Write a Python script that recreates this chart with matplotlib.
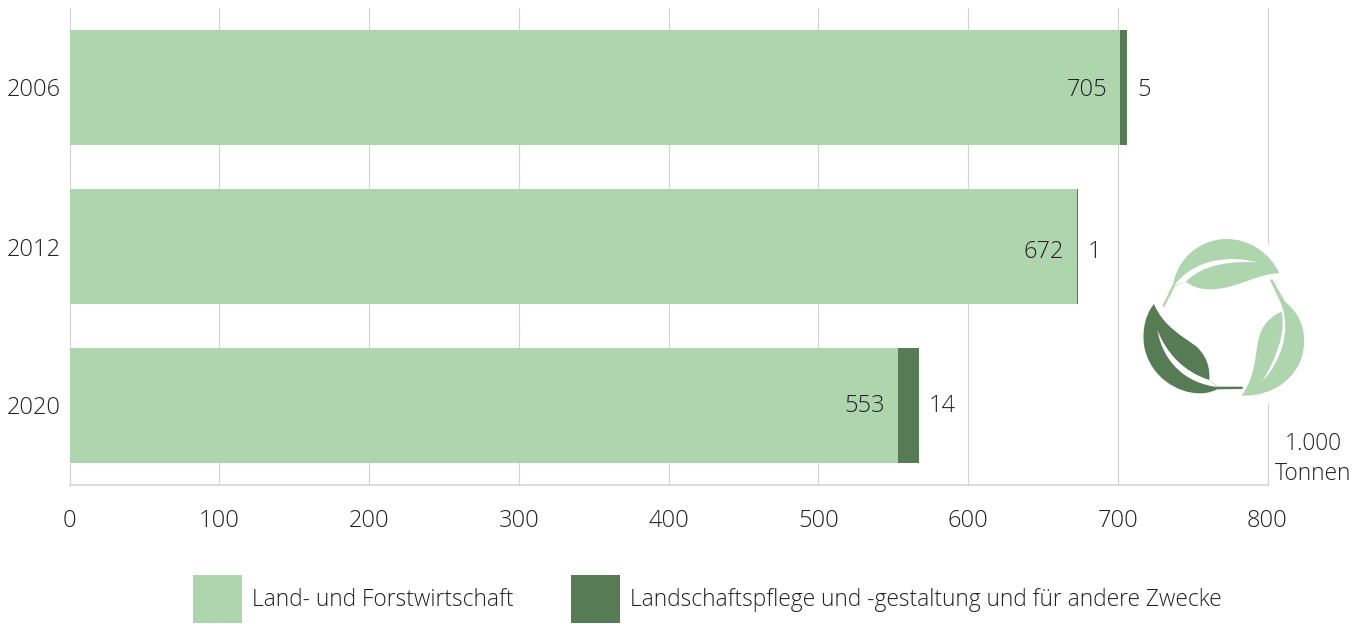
import matplotlib
matplotlib.use("Agg")
import matplotlib.pyplot as plt
from matplotlib.path import Path
from matplotlib.patches import PathPatch, Rectangle
from matplotlib.transforms import Affine2D

years = ["2006", "2012", "2020"]
land_drawn = [701.5, 672.5, 553]
land_labels = ["705", "672", "553"]
other_values = [5, 1, 14]
other_labels = ["5", "1", "14"]
x_ticks = [0, 100, 200, 300, 400, 500, 600, 700, 800]
series_names = ["Land- und Forstwirtschaft",
                "Landschaftspflege und -gestaltung und für andere Zwecke"]
unit_label = "1.000\nTonnen"

LIGHT = "#AFD5AE"
DARK = "#577C55"
TEXT = "#222222"
GRID = "#D2D2D2"
W, H = 1366, 624
DIGITS = 17
WORDS = 16.4

plt.rcParams['font.family'] = ['Open Sans', 'DejaVu Sans']
plt.rcParams['font.weight'] = 'light'
fig = plt.figure(figsize=(W / 100, H / 100), dpi=100)
ax = fig.add_axes([69.5 / W, (H - 485) / H, 1198 / W, 477 / H])
ax.set_xlim(0, 800)
ax.set_ylim(2.5, -0.5)

ypos = list(range(len(years)))
b1 = ax.barh(ypos, land_drawn, height=0.723, color=LIGHT, zorder=3, label=series_names[0])
b2 = ax.barh(ypos, other_values, left=land_drawn, height=0.723, color=DARK, zorder=3, label=series_names[1])

ax.set_xticks(x_ticks)
ax.set_yticks(ypos, years)
ax.grid(axis='x', color=GRID, lw=0.8, zorder=0, clip_on=False)
ax.grid(axis='y', visible=False)
ax.set_axisbelow(True)
for s in ('top', 'right', 'left'):
    ax.spines[s].set_visible(False)
ax.spines['bottom'].set_color(GRID)
ax.spines['bottom'].set_linewidth(1.1)
ax.tick_params(axis='both', length=0, labelsize=DIGITS, labelcolor=TEXT)
ax.tick_params(axis='x', pad=17)
ax.tick_params(axis='y', pad=6)

nudge_px = [2, 6, 0]
for i, (l, o) in enumerate(zip(land_drawn, other_values)):
    dy = -nudge_px[i] * 0.72
    ax.annotate(land_labels[i], (l, i), xytext=(-9, dy), textcoords='offset points',
                ha='right', va='center', fontsize=DIGITS, color=TEXT, zorder=5)
    ax.annotate(other_labels[i], (l + o, i), xytext=(7, dy), textcoords='offset points',
                ha='left', va='center', fontsize=DIGITS, color=TEXT, zorder=5)

# decorative recycling-leaves icon, in pixel coordinates of the reference
px = Affine2D().scale(1 / 3, 1 / 3).translate(1130, 230).scale(1, -1).translate(0, H)
M, L, C, Z = Path.MOVETO, Path.LINETO, Path.CURVE4, Path.CLOSEPOLY

def shape(start, segs, color):
    verts, codes = [start], [M]
    for seg in segs:
        if len(seg) == 1:
            verts += seg; codes += [L]
        else:
            verts += seg; codes += [C, C, C]
    verts.append(start); codes.append(Z)
    fig.add_artist(PathPatch(Path(verts, codes), fc=color, ec='none', transform=px, zorder=6))

fig.add_artist(Rectangle((1140, H - 403), 170, 158, fc='white', ec='none',
                         transform=None, zorder=5))
# top leaf
shape((97, 228), [[(130, 160)], [(150, 60), (240, 25), (290, 27)], [(360, 27), (420, 70), (448, 130)],
                  [(380, 130), (320, 178), (240, 178)], [(210, 178), (185, 170), (168, 155)],
                  [(135, 168)], [(103, 231)]], LIGHT)
shape((133, 166), [[(180, 100), (280, 70), (380, 97)], [(300, 92), (215, 105), (168, 155)]], 'white')
# right leaf
shape((420, 150), [[(427, 147)], [(465, 215)], [(510, 250), (525, 300), (522, 340)],
                   [(520, 430), (440, 500), (335, 497)], [(375, 440), (375, 380), (385, 330)],
                   [(395, 285), (420, 260), (455, 245)], [(453, 220)]], LIGHT)
shape((452, 218), [[(485, 300), (455, 390), (397, 455)], [(440, 380), (468, 310), (455, 245)]], 'white')
# left leaf
shape((72, 222), [[(40, 260), (35, 320), (45, 360)], [(65, 440), (140, 490), (210, 490)],
                  [(235, 490), (250, 483), (262, 478)], [(338, 477)], [(338, 470)], [(262, 470)],
                  [(238, 450)], [(240, 410), (230, 380), (200, 350)], [(160, 320), (100, 290), (72, 222)]], DARK)
shape((82, 300), [[(110, 370), (160, 425), (238, 450)], [(262, 471)], [(170, 460), (100, 400), (82, 300)]], 'white')

fig.text(1313 / W, 1 - 459 / H, unit_label, ha='center', va='center', fontsize=WORDS,
         color=TEXT, linespacing=1.38)

fig.legend(handles=[b1, b2], labels=series_names, loc='center left',
           bbox_to_anchor=(193 / W, 1 - 599 / H), ncol=2, frameon=False, fontsize=WORDS,
           labelcolor=TEXT, handlelength=2.15, handleheight=2.86, handletextpad=0.44,
           columnspacing=2.54, borderpad=0, borderaxespad=0)

fig.savefig("out.png", dpi=100)
